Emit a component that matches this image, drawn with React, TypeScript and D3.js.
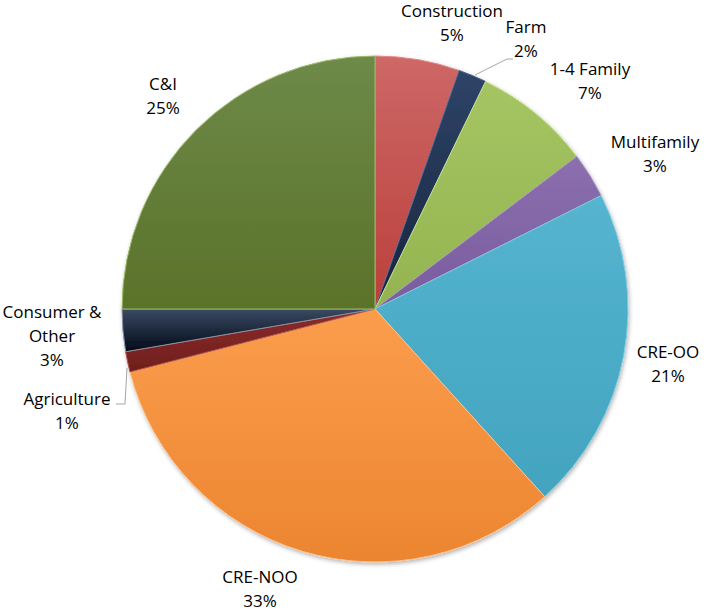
import React from "react";
import * as d3 from "d3";

const categories = ["Construction", "Farm", "1-4 Family", "Multifamily", "CRE-OO", "CRE-NOO", "Agriculture", "Consumer & Other", "C&I"];
const values = [5.4, 1.8, 7.5, 2.9, 20.7, 32.7, 1.3, 2.7, 25.0];
const pctLabels = ["5%", "2%", "7%", "3%", "21%", "33%", "1%", "3%", "25%"];
const topColors = ["#cd6866", "#2f4468", "#a5c564", "#8b6fae", "#55b4cf", "#fb9d4d", "#8c2c2a", "#3a4a62", "#6e8a49"];
const bottomColors = ["#ba3f3b", "#16243e", "#94b450", "#7a5c9e", "#43a4c0", "#ec8530", "#6f1e1c", "#020a18", "#5a7229"];
const edgeColors = ["#e08a88", "#4d6690", "#c8e28a", "#a58fc6", "#7ccbe0", "#ffc08a", "#b05552", "#8a94a8", "#9fba6a"];
const labelLines = [["Construction"], ["Farm"], ["1-4 Family"], ["Multifamily"], ["CRE-OO"], ["CRE-NOO"], ["Agriculture"], ["Consumer &", "Other"], ["C&I"]];
const labelPos: [number, number][] = [[452, 12], [526, 28], [590, 70], [655, 143], [668, 353], [260, 578], [67, 400], [52, 313], [163, 85]];

export default function App() {
  const W = 709, H = 613;
  const cx = 375, cy = 309, r = 253;
  const pie = d3.pie<number>().sort(null).value((d) => d);
  const arcs = pie(values);
  const arc = d3.arc<d3.PieArcDatum<number>>().innerRadius(0).outerRadius(r);
  const lh = 24;
  return (
    <svg width={W} height={H} style={{ position: "absolute", left: 0, top: 0 }}>
      <defs>
        {categories.map((c, i) => (
          <linearGradient key={c} id={`g${i}`} x1={0} y1={0} x2={0} y2={1}>
            <stop offset="0" stopColor={topColors[i]} />
            <stop offset="1" stopColor={bottomColors[i]} />
          </linearGradient>
        ))}
        <filter id="sh" x="-10%" y="-10%" width="120%" height="120%">
          <feDropShadow dx="1" dy="2" stdDeviation="2" floodColor="#000" floodOpacity="0.3" />
        </filter>
      </defs>
      <g transform={`translate(${cx},${cy})`} filter="url(#sh)">
        {arcs.map((a, i) => (
          <path key={i} d={arc(a) || ""} fill={`url(#g${i})`} stroke={edgeColors[i]} strokeWidth={1} strokeLinejoin="round" />
        ))}
      </g>
      <polyline points="475,75 507,59 513,59" fill="none" stroke="#a6a6a6" strokeWidth={1} />
      <polyline points="127,368 125,404 116,404" fill="none" stroke="#a6a6a6" strokeWidth={1} />
      <g fontFamily="'Open Sans', 'Noto Sans', sans-serif" fontSize={17} fill="#000" textAnchor="middle">
        {categories.map((c, i) => {
          const [x, y] = labelPos[i];
          const lines = [...labelLines[i], pctLabels[i]];
          return (
            <text key={c} x={x} y={y} dominantBaseline="middle">
              {lines.map((t, j) => (
                <tspan key={j} x={x} y={y + j * lh}>{t}</tspan>
              ))}
            </text>
          );
        })}
      </g>
    </svg>
  );
}
